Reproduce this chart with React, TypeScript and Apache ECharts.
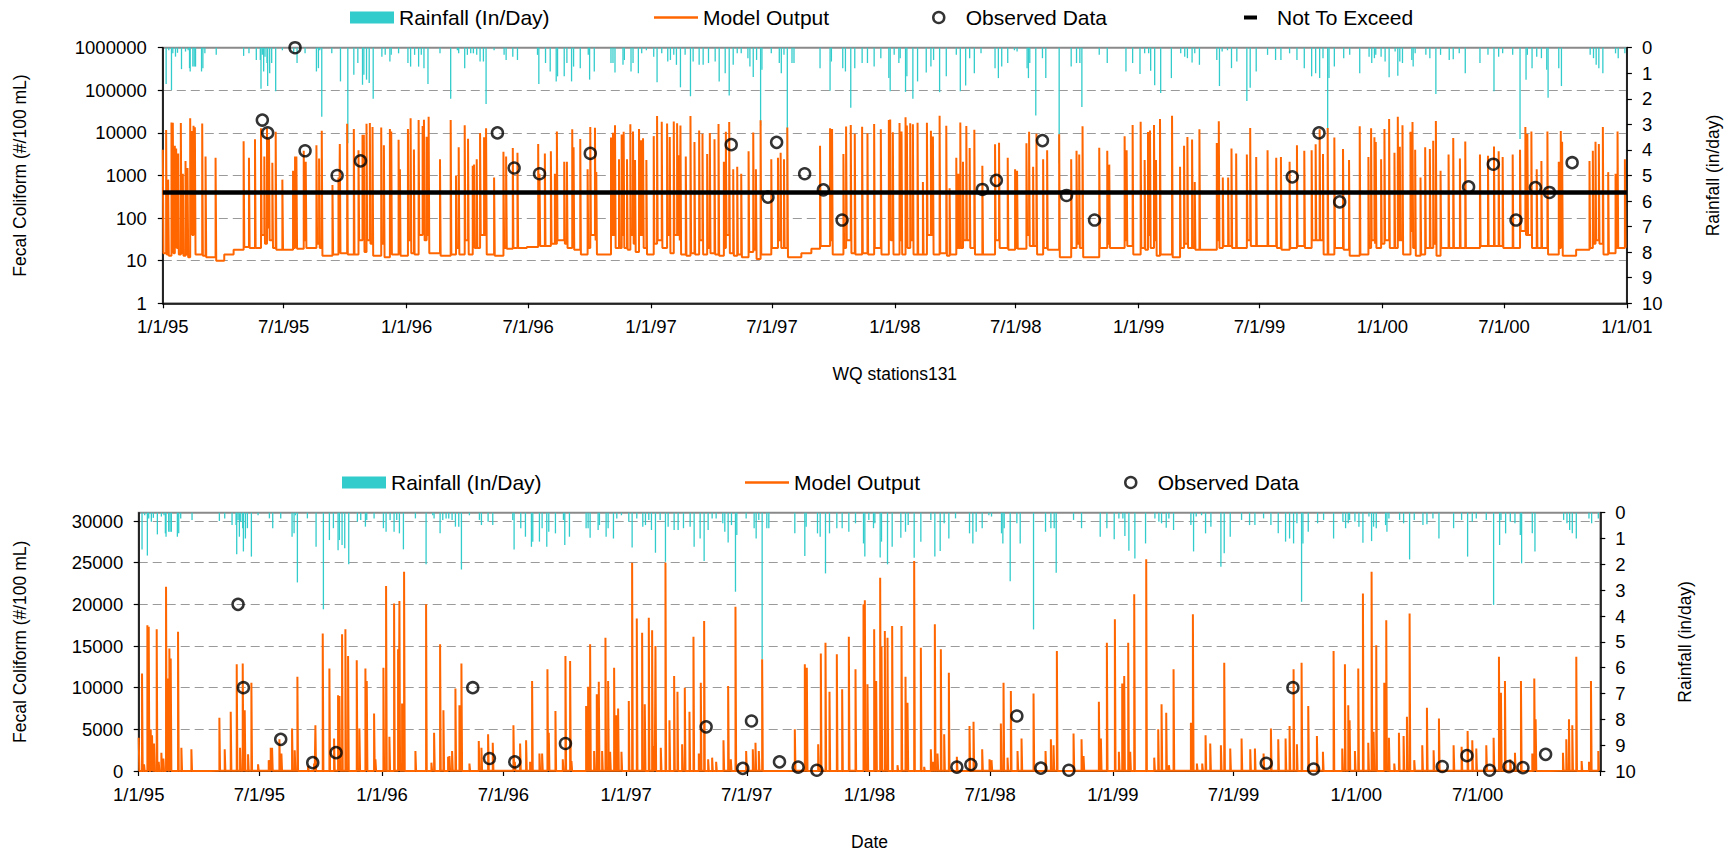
import React, { useEffect, useRef } from "react";
import * as echarts from "echarts";

const FONT = "'Liberation Sans', Arial, Helvetica, sans-serif";
const RAIN_COLOR = "#33CCCC";
const MODEL_COLOR = "#FF6600";

// ---- Rainfall (in/day): [day of year, inches]
const rain1995: [number, number][] = [[5,1.42],[9,0.1],[13,1.66],[15,0.22],[19,0.35],[22,0.2],[28,0.84],[34,0.15],[38,0.1],[40,0.8],[41,0.93],[45,0.74],[47,0.74],[49,0.74],[58,0.93],[60,0.8],[63,0.22],[80,0.28],[121,0.32],[129,0.22],[140,0.48],[146,0.48],[147,1.61],[149,0.28],[151,0.93],[153,0.35],[156,0.6],[157,1.5],[160,1.0],[163,0.6],[169,1.7],[179,0.1],[196,0.22],[201,0.6],[213,0.22],[230,0.93],[233,0.8],[235,0.1],[238,2.7],[253,0.22],[266,1.32],[277,3.74],[286,1.06],[292,0.6],[299,1.45],[301,1.06],[305,1.25],[309,1.38],[315,2.0],[328,0.35],[333,0.28],[340,0.54],[342,0.28],[353,0.22]];
const rain1996: [number, number][] = [[2,0.6],[6,0.74],[12,0.28],[18,0.74],[22,0.28],[26,0.8],[32,1.42],[50,0.22],[66,2.0],[76,0.1],[78,0.22],[87,0.8],[91,0.28],[96,0.22],[100,0.22],[105,0.28],[110,0.54],[115,0.54],[119,2.2],[131,0.1],[146,0.28],[149,0.48],[159,0.35],[166,0.48],[196,0.28],[198,1.42],[208,0.6],[215,0.93],[224,1.32],[226,1.12],[236,1.12],[240,0.6],[247,1.32],[250,0.74],[260,0.8],[272,0.28],[274,1.25],[281,0.93],[306,0.6],[309,0.6],[312,0.97],[324,0.67],[326,0.48],[336,0.93],[339,0.6],[347,1.0],[352,0.22],[359,0.1]];
const rain1997: [number, number][] = [[4,0.35],[9,1.35],[16,0.22],[25,0.54],[29,0.48],[34,0.28],[38,0.67],[44,1.55],[51,0.28],[59,1.9],[63,0.54],[72,0.67],[78,0.67],[86,0.6],[96,0.54],[102,1.32],[111,1.0],[117,1.87],[123,0.67],[129,0.22],[135,0.22],[145,0.41],[148,0.74],[153,1.15],[158,0.48],[164,3.06],[166,0.86],[180,0.22],[192,0.6],[195,1.0],[199,0.28],[204,5.66],[211,0.6],[214,0.6],[253,0.8],[268,1.68],[270,0.54],[287,0.8],[291,0.93],[299,2.35],[305,0.8],[316,0.6],[324,0.6],[334,0.74],[344,0.41],[356,1.19],[358,1.7],[364,0.28]];
const rain1998: [number, number][] = [[6,0.6],[8,0.41],[16,1.73],[18,1.12],[27,2.0],[34,1.32],[47,0.97],[54,0.74],[58,0.48],[67,1.74],[77,1.12],[92,0.28],[98,1.7],[106,1.48],[112,0.41],[119,1.0],[129,0.22],[150,0.8],[155,1.19],[160,0.74],[169,0.6],[179,0.1],[183,0.15],[198,0.8],[200,1.19],[202,0.6],[211,2.65],[221,0.41],[226,1.19],[246,4.52],[264,0.74],[272,0.6],[277,0.6],[280,2.32],[306,0.28],[318,0.6],[346,0.93],[356,0.6]];
const rain1999: [number, number][] = [[2,1.03],[9,0.22],[15,0.22],[18,0.9],[24,1.47],[33,1.77],[49,1.19],[63,0.22],[69,0.35],[73,0.41],[80,0.58],[84,0.22],[91,0.67],[117,0.48],[121,1.5],[125,0.15],[133,0.1],[139,0.8],[147,0.54],[162,2.09],[167,1.57],[176,0.93],[193,0.28],[205,0.48],[213,0.48],[226,0.22],[237,0.48],[248,0.8],[259,1.12],[265,1.0],[271,1.19],[276,0.41],[283,3.45],[285,1.19],[293,0.74],[307,0.41],[316,0.28],[331,1.0],[345,0.35],[349,0.6],[353,0.41],[355,0.28],[363,0.35]];
const rain2000: [number, number][] = [[4,0.54],[10,1.16],[19,0.15],[23,1.1],[26,0.54],[30,0.6],[44,0.48],[46,0.74],[49,0.22],[65,0.28],[71,0.41],[80,1.81],[87,0.28],[100,0.48],[106,0.45],[115,0.22],[124,1.0],[146,0.6],[158,0.28],[167,1.7],[174,0.35],[180,0.22],[195,0.28],[206,3.57],[215,1.25],[217,0.28],[224,0.8],[231,0.35],[238,0.41],[246,0.86],[248,1.96],[264,0.8],[268,1.5],[311,0.28],[316,0.41],[320,0.67],[324,0.8],[330,1.0],[349,0.22],[353,0.41],[363,0.22]];

// ---- Model output (#/100 mL): [day of year, peak value, value on following day]
const model1995: [number, number, number][] = [[0,4000,15],[5,11700,14],[8,800,13],[13,17500,40],[15,17300,15],[18,5000,30],[20,4300,20],[23,3300,14],[27,17000,15],[30,1100,13],[34,2200,14],[37,1500,12],[41,22100,60],[43,11100,40],[46,14700,50],[48,13500,14],[59,16700,13],[64,2800,12],[79,2600,10],[92,14,14],[106,18,18],[121,6400,21],[129,2600,20],[138,7100,20],[147,12800,40],[152,2800,25],[156,12900,60],[159,7300,30],[164,2000,20],[169,10600,18],[179,800,18],[195,1300,20],[198,2800,30],[200,2800,19],[211,3800,30],[214,2100,20],[230,5100,25],[234,2500,20],[238,11300,13],[254,600,14],[263,900,20],[265,5500,15],[276,16500,14],[286,12300,14],[293,3900,30],[299,9100,40],[301,9000,16],[305,16400,30],[310,17000,25],[314,13800,13],[327,13300,25],[331,5100,12],[340,12300,40],[342,10800,14],[353,6900,30],[355,1400,13]];
const model1996: [number, number, number][] = [[2,12400,30],[6,22200,15],[11,4100,14],[18,20100,40],[24,14600,50],[26,20400,30],[30,8100,40],[33,23900,15],[50,2400,13],[66,20000,14],[74,1000,20],[78,4600,14],[87,15200,30],[92,7300,14],[99,1700,20],[101,1800,20],[105,2400,20],[110,9900,40],[116,7900,40],[119,12900,14],[131,900,13],[145,3600,20],[149,2800,19],[159,4400,20],[166,3400,20],[180,21,21],[197,5500,30],[199,1100,22],[207,3300,22],[216,3700,25],[222,1100,25],[225,10800,30],[236,2100,25],[240,2100,20],[248,12200,40],[250,4600,18],[260,7200,14],[271,1400,20],[275,13800,40],[282,13200,30],[284,1200,14],[306,7800,40],[309,10100,40],[312,15200,20],[318,2400,20],[322,9200,40],[325,10700,20],[330,2400,18],[335,16000,40],[339,10800,25],[342,2300,16],[348,12400,40],[351,6700,40],[354,7500,20],[359,2300,14]];
const model1997: [number, number, number][] = [[4,8400,25],[9,25000,30],[16,18300,20],[24,16600,40],[28,8000,15],[34,18400,40],[39,16900,40],[42,3000,30],[44,15000,14],[52,2800,13],[59,25000,15],[65,6100,14],[72,11400,30],[77,9500,14],[84,3200,20],[88,10000,15],[95,7100,14],[101,16100,13],[109,2100,20],[112,10600,40],[117,18000,15],[123,1400,13],[129,1600,14],[135,1100,12],[146,3700,16],[153,10200,18],[157,1400,11],[164,19700,14],[180,2400,20],[190,2600,30],[194,3400,20],[199,2400,20],[204,13400,12],[225,15,15],[240,19,19],[253,5000,22],[268,12800,30],[271,12400,14],[288,3200,20],[292,14100,30],[299,15400,15],[305,9500,14],[316,14000,15],[324,9800,14],[334,16100,20],[344,12200,14],[356,20000,40],[358,20500,30],[362,10400,14]];
const model1998: [number, number, number][] = [[7,17000,30],[10,10800,14],[16,23200,50],[18,14900,20],[23,16800,30],[27,16000,14],[34,17400,14],[42,700,14],[48,17400,40],[54,11300,40],[57,8200,14],[67,25200,15],[77,14800,13],[82,500,14],[92,2600,20],[95,1100,20],[98,17600,20],[102,2100,30],[107,14600,30],[112,4400,20],[119,11800,14],[131,1700,14],[150,5400,30],[156,5900,20],[169,2600,18],[180,1400,20],[183,1300,19],[197,5700,40],[201,10600,22],[207,1600,22],[212,9600,14],[222,2400,20],[228,3900,18],[246,9300,12],[264,2400,20],[272,3800,25],[276,3100,20],[281,14400,12],[306,4500,20],[318,3800,25],[321,1800,20],[344,8300,30],[347,3900,22],[356,15400,14]];
const model1999: [number, number, number][] = [[3,18200,20],[9,2300,18],[14,10500,40],[17,11400,20],[23,15400,30],[26,2300,13],[32,21200,14],[50,25400,12],[62,1600,20],[68,5000,25],[73,8000,20],[80,7000,20],[84,700,18],[91,12200,18],[117,5800,30],[120,18800,20],[126,900,22],[134,900,22],[139,4300,20],[146,3300,20],[162,3100,30],[167,13000,22],[176,2700,22],[193,3900,22],[206,2600,20],[213,2700,18],[226,2100,20],[237,5100,22],[248,3800,20],[259,3900,30],[265,5400,30],[271,12200,30],[276,3200,14],[283,13000,14],[293,7800,20],[306,4200,18],[315,2300,13],[331,14400,14],[344,2700,20],[348,12800,30],[353,7900,25],[355,6100,20],[363,2400,25]];
const model2000: [number, number, number][] = [[3,12300,30],[10,21300,20],[18,3400,20],[23,23900,30],[26,4700,30],[30,15100,14],[42,10600,50],[45,18100,20],[49,4000,13],[57,900,14],[64,4600,20],[71,4200,20],[76,6500,25],[80,18900,13],[87,1300,20],[99,3100,20],[106,7600,20],[116,2500,20],[124,6300,20],[146,3100,22],[158,2900,22],[167,4800,22],[174,3700,22],[180,2700,20],[195,3100,20],[206,4000,50],[214,13700,40],[217,9400,40],[223,10800,20],[231,1400,20],[238,2200,20],[247,10800,14],[264,2100,20],[267,11100,30],[269,6200,13],[290,18,18],[310,2200,20],[315,3800,25],[319,6200,30],[324,5500,25],[330,13700,14],[338,1200,15],[349,1100,20],[352,10800,20],[363,2400,20]];

// ---- Observed data
const observedDates = ["1995-05-30","1995-06-07","1995-07-18","1995-08-02","1995-09-19","1995-10-24","1996-05-16","1996-06-10","1996-07-18","1996-10-02","1997-05-01","1997-06-25","1997-07-08","1997-08-19","1997-09-16","1997-10-14","1998-05-12","1998-06-02","1998-08-10","1998-09-15","1998-10-27","1999-08-19","1999-09-28","1999-10-29","2000-05-09","2000-06-15","2000-07-19","2000-08-17","2000-09-07","2000-10-11"];
const observedValues = [20000,10000,1000000,3800,1000,2200,10000,1500,1100,3300,5300,310,6000,1100,460,90,470,770,6600,340,90,930,10000,240,540,1840,90,520,400,2000];

const notToExceed = 400;
const axisStart = "1995-01-01";
const axisEnd = "2001-01-01";
const tickDates = ["1995-01-01","1995-07-01","1996-01-01","1996-07-01","1997-01-01","1997-07-01","1998-01-01","1998-07-01","1999-01-01","1999-07-01","2000-01-01","2000-07-01","2001-01-01"];
const topLabelDates = tickDates;
const bottomLabelDates = tickDates.slice(0, 12);

const rainByYear: [number, [number, number][]][] = [[1995, rain1995],[1996, rain1996],[1997, rain1997],[1998, rain1998],[1999, rain1999],[2000, rain2000]];
const modelByYear: [number, [number, number, number][]][] = [[1995, model1995],[1996, model1996],[1997, model1997],[1998, model1998],[1999, model1999],[2000, model2000]];

const DAY = 86400000;
const ts = (y: number, d: number) => Date.UTC(y, 0, 1) + d * DAY;
const iso = (s: string) => Date.parse(s + "T00:00:00Z");

const rainData: [number, number][] = [];
rainByYear.forEach(([y, arr]) => arr.forEach(([d, v]) => rainData.push([ts(y, d), v])));
const modelData: [number, number][] = [];
modelByYear.forEach(([y, arr]) => arr.forEach(([d, p, l]) => { modelData.push([ts(y, d), p]); modelData.push([ts(y, d + 1), l]); }));
const observedData: [number, number][] = observedDates.map((s, i) => [iso(s), observedValues[i]]);
const nteData: [number, number][] = [[iso(axisStart), notToExceed], [iso(axisEnd), notToExceed]];

const fmtDate = (v: number) => {
  const d = new Date(v);
  return `${d.getUTCMonth() + 1}/${d.getUTCDate()}/${String(d.getUTCFullYear()).slice(2)}`;
};

const TICK_FS = 18.5;
const NAME_FS = 17.5;
const LEG_FS = 21;

const xAxisCfg = (gridIndex: number, name: string, labels: string[]) => ({
  type: "value",
  gridIndex,
  min: iso(axisStart),
  max: iso(axisEnd),
  scale: true,
  axisLine: { show: true, onZero: false, lineStyle: { color: "#000", width: 1.5 } },
  axisTick: { show: true, length: 5, customValues: tickDates.map(iso), lineStyle: { color: "#000", width: 1.2 } },
  axisLabel: { customValues: labels.map(iso), formatter: fmtDate, fontSize: TICK_FS, color: "#000", margin: 14, fontFamily: FONT, showMinLabel: true, showMaxLabel: true },
  splitLine: { show: false },
  name,
  nameLocation: "middle",
  nameGap: 62,
  nameTextStyle: { fontSize: NAME_FS, color: "#000", fontFamily: FONT },
});

const rainAxisCfg = (gridIndex: number, nameGap: number) => ({
  type: "value",
  gridIndex,
  position: "right",
  inverse: true,
  min: 0,
  max: 10,
  interval: 1,
  axisLine: { show: true, lineStyle: { color: "#000", width: 1.5 } },
  axisTick: { show: true, length: 5, lineStyle: { color: "#000", width: 1.2 } },
  axisLabel: { fontSize: TICK_FS, color: "#000", margin: 15, fontFamily: FONT },
  splitLine: { show: false },
  name: "Rainfall (in/day)",
  nameLocation: "middle",
  nameRotate: 90,
  nameGap,
  nameTextStyle: { fontSize: NAME_FS, color: "#000", fontFamily: FONT },
});

const splitDash = { show: true, showMinLine: false, showMaxLine: false, lineStyle: { color: "#9a9a9a", type: [9, 5], width: 1.2 } };

const legendBox = (name: string, left: number, top: number, extra: any, w = 44, h = 12, textPad = 0) => ({
  left,
  top,
  padding: 0,
  itemWidth: w,
  itemHeight: h,
  selectedMode: false,
  textStyle: { fontSize: LEG_FS, color: "#000", fontFamily: FONT, padding: [0, 0, 0, textPad] },
  data: [{ name, ...extra }],
});

const circleLegend = { icon: "circle", itemStyle: { color: "rgba(0,0,0,0)", borderColor: "#000", borderWidth: 2.5 } };
const lineLegend = { icon: "rect", itemStyle: { color: MODEL_COLOR } };

const LINE_W = 2;
const SYM = 11;

export default function App() {
  const ref = useRef<HTMLDivElement>(null);
  useEffect(() => {
    if (!ref.current) return;
    const chart = echarts.init(ref.current, undefined, { renderer: "svg" });
    const option: any = {
      animation: false,
      backgroundColor: "#fff",
      textStyle: { fontFamily: FONT },
      grid: [
        { left: 162.8, top: 47.7, width: 1464.1, height: 255.6, show: true, borderColor: "#8a8a8a", borderWidth: 2, backgroundColor: "rgba(0,0,0,0)" },
        { left: 138.7, top: 512.7, width: 1461.6, height: 258.3, show: true, borderColor: "#8a8a8a", borderWidth: 2, backgroundColor: "rgba(0,0,0,0)" },
      ],
      legend: [
        legendBox("Rainfall (In/Day)", 350, 7, { icon: "rect" }),
        legendBox("Model Output", 654, 7, lineLegend, 44, 2.5),
        legendBox("Observed Data", 932, 7, circleLegend, 44, 11),
        legendBox("Not To Exceed", 1244, 7, { icon: "rect" }, 13, 4, 15),
        legendBox("Rainfall (In/Day)", 342, 472, { icon: "rect" }),
        legendBox("Model Output", 745, 472, lineLegend, 44, 2.5),
        legendBox("Observed Data", 1124, 472, circleLegend, 44, 11),
      ],
      xAxis: [xAxisCfg(0, "WQ stations131", topLabelDates), xAxisCfg(1, "Date", bottomLabelDates)],
      yAxis: [
        {
          type: "log",
          gridIndex: 0,
          logBase: 10,
          min: 1,
          max: 1000000,
          splitNumber: 6,
          position: "left",
          axisLine: { show: true, lineStyle: { color: "#000", width: 1.5 } },
          axisTick: { show: true, length: 5, lineStyle: { color: "#000", width: 1.2 } },
          axisLabel: { fontSize: TICK_FS, color: "#000", margin: 16, fontFamily: FONT, formatter: (v: number) => String(Math.round(v)) },
          minorTick: { show: false },
          minorSplitLine: { show: false },
          splitLine: splitDash,
          name: "Fecal Coliform (#/100 mL)",
          nameLocation: "middle",
          nameRotate: 90,
          nameGap: 134,
          nameTextStyle: { fontSize: NAME_FS, color: "#000", fontFamily: FONT },
        },
        rainAxisCfg(0, 77),
        {
          type: "value",
          gridIndex: 1,
          position: "left",
          min: 0,
          max: 31000,
          interval: 5000,
          axisLine: { show: true, lineStyle: { color: "#000", width: 1.5 } },
          axisTick: { show: true, length: 5, lineStyle: { color: "#000", width: 1.2 } },
          axisLabel: { fontSize: TICK_FS, color: "#000", margin: 15.5, fontFamily: FONT, showMaxLabel: false, formatter: (v: number) => (v > 30000 ? "" : String(v)) },
          splitLine: splitDash,
          name: "Fecal Coliform (#/100 mL)",
          nameLocation: "middle",
          nameRotate: 90,
          nameGap: 110,
          nameTextStyle: { fontSize: NAME_FS, color: "#000", fontFamily: FONT },
        },
        rainAxisCfg(1, 76),
      ],
      series: [
        { name: "Rainfall (In/Day)", type: "bar", xAxisIndex: 0, yAxisIndex: 1, barWidth: 1.3, itemStyle: { color: RAIN_COLOR }, data: rainData, z: 1 },
        { name: "Model Output", type: "line", xAxisIndex: 0, yAxisIndex: 0, step: "end", symbol: "none", showSymbol: false, lineStyle: { color: MODEL_COLOR, width: LINE_W }, itemStyle: { color: MODEL_COLOR }, data: modelData, z: 2 },
        { name: "Not To Exceed", type: "line", xAxisIndex: 0, yAxisIndex: 0, symbol: "none", showSymbol: false, lineStyle: { color: "#000", width: 4.5 }, itemStyle: { color: "#000" }, data: nteData, z: 3 },
        { name: "Observed Data", type: "scatter", xAxisIndex: 0, yAxisIndex: 0, symbol: "circle", symbolSize: SYM, clip: false, itemStyle: { color: "rgba(0,0,0,0)", borderColor: "#000", borderWidth: 2.5 }, data: observedData, z: 4 },
        { name: "Rainfall (In/Day)", type: "bar", xAxisIndex: 1, yAxisIndex: 3, barWidth: 1.3, itemStyle: { color: RAIN_COLOR }, data: rainData, z: 1 },
        { name: "Model Output", type: "line", xAxisIndex: 1, yAxisIndex: 2, step: "end", symbol: "none", showSymbol: false, lineStyle: { color: MODEL_COLOR, width: LINE_W }, itemStyle: { color: MODEL_COLOR }, data: modelData, z: 2 },
        { name: "Observed Data", type: "scatter", xAxisIndex: 1, yAxisIndex: 2, symbol: "circle", symbolSize: SYM, clip: true, itemStyle: { color: "rgba(0,0,0,0)", borderColor: "#000", borderWidth: 2.5 }, data: observedData, z: 4 },
      ],
    };
    chart.setOption(option);
    return () => chart.dispose();
  }, []);
  return <div ref={ref} style={{ position: "absolute", left: 0, top: 0, width: 1736, height: 854 }} />;
}
